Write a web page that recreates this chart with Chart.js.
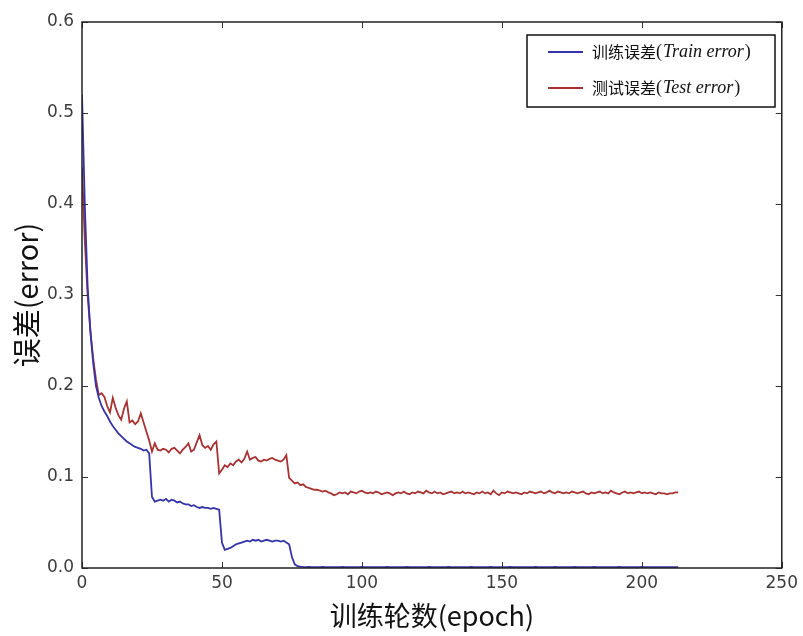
<!DOCTYPE html>
<html>
<head>
<meta charset="utf-8">
<script src="https://cdn.jsdelivr.net/npm/chart.js@4/dist/chart.umd.min.js"></script>
<style>
  html, body { margin: 0; padding: 0; background: #fff; }
  #wrap { width: 803px; height: 636px; }
</style>
</head>
<body>
<div id="wrap"><canvas id="errChart" width="803" height="636"></canvas></div>
<script>
// training error per epoch
const trainErr = [
  0.52, 0.40, 0.31, 0.26, 0.225, 0.20, 0.187, 0.178, 0.172, 0.167,
  0.161, 0.156, 0.152, 0.148, 0.145, 0.142, 0.139, 0.137, 0.135, 0.133,
  0.132, 0.131, 0.129, 0.130, 0.126, 0.078, 0.073, 0.074, 0.075, 0.074,
  0.076, 0.073, 0.075, 0.074, 0.072, 0.073, 0.071, 0.070, 0.070, 0.068,
  0.069, 0.067, 0.066, 0.067, 0.066, 0.066, 0.065, 0.066, 0.065, 0.064,
  0.028, 0.020, 0.021, 0.022, 0.024, 0.026, 0.027, 0.028, 0.029, 0.030,
  0.029, 0.031, 0.030, 0.031, 0.029, 0.030, 0.031, 0.030, 0.029, 0.030,
  0.030, 0.029, 0.030, 0.028, 0.026, 0.012, 0.004, 0.002, 0.0015,
  0.0012, 0.001, 0.0011, 0.001, 0.0009, 0.001, 0.001, 0.0011, 0.001, 0.0009,
  0.001, 0.001, 0.0009, 0.001, 0.0011, 0.001, 0.001, 0.0009, 0.001, 0.001,
  0.001, 0.0011, 0.001, 0.0009, 0.001, 0.001, 0.001, 0.0009, 0.001, 0.001,
  0.0011, 0.001, 0.001, 0.0009, 0.001, 0.001, 0.001, 0.0011, 0.001, 0.0009,
  0.001, 0.001, 0.0009, 0.001, 0.001, 0.0011, 0.001, 0.001, 0.0009, 0.001,
  0.001, 0.001, 0.0011, 0.001, 0.0009, 0.001, 0.001, 0.001, 0.0009, 0.001,
  0.0011, 0.001, 0.001, 0.0009, 0.001, 0.001, 0.001, 0.0011, 0.001, 0.001,
  0.0009, 0.001, 0.001, 0.001, 0.0011, 0.001, 0.0009, 0.001, 0.001, 0.001,
  0.001, 0.0009, 0.001, 0.0011, 0.001, 0.001, 0.001, 0.0009, 0.001, 0.001,
  0.0011, 0.001, 0.001, 0.0009, 0.001, 0.001, 0.001, 0.0011, 0.001, 0.001,
  0.0009, 0.001, 0.001, 0.001, 0.0011, 0.001, 0.0009, 0.001, 0.001, 0.001,
  0.001, 0.0009, 0.001, 0.0011, 0.001, 0.001, 0.001, 0.0009, 0.001, 0.001,
  0.001, 0.0011, 0.001, 0.0009, 0.001, 0.001, 0.001, 0.001, 0.0009, 0.001,
  0.001, 0.001, 0.001, 0.001, 0.001
];

// test error per epoch
const testErr = [
  0.44, 0.36, 0.30, 0.26, 0.23, 0.207, 0.19, 0.192, 0.188, 0.178,
  0.171, 0.187, 0.176, 0.168, 0.163, 0.175, 0.183, 0.160, 0.162, 0.158,
  0.161, 0.170, 0.160, 0.150, 0.140, 0.128, 0.137, 0.130, 0.129, 0.131,
  0.130, 0.127, 0.131, 0.132, 0.129, 0.126, 0.130, 0.133, 0.137, 0.128,
  0.130, 0.138, 0.146, 0.135, 0.132, 0.134, 0.130, 0.136, 0.139, 0.104,
  0.108, 0.113, 0.111, 0.115, 0.113, 0.117, 0.119, 0.116, 0.120, 0.128,
  0.119, 0.121, 0.122, 0.118, 0.117, 0.119, 0.118, 0.120, 0.121, 0.119,
  0.118, 0.117, 0.119, 0.124, 0.099, 0.096, 0.093, 0.094, 0.091, 0.092,
  0.089, 0.088, 0.087, 0.086, 0.086, 0.085, 0.084, 0.085, 0.083, 0.082,
  0.080, 0.081, 0.083,
  0.082, 0.083, 0.081, 0.084, 0.083, 0.082, 0.084, 0.085, 0.083, 0.082,
  0.083, 0.082, 0.084, 0.083, 0.081, 0.082, 0.083, 0.082, 0.080, 0.082,
  0.083, 0.082, 0.084, 0.082, 0.081, 0.083, 0.082, 0.084, 0.083, 0.082,
  0.085, 0.083, 0.082, 0.084, 0.082, 0.083, 0.081, 0.082, 0.083, 0.084,
  0.082, 0.083, 0.082, 0.084, 0.082, 0.083, 0.082, 0.081, 0.083, 0.082,
  0.084, 0.082, 0.083, 0.081, 0.085, 0.082, 0.080, 0.083, 0.082, 0.084,
  0.083, 0.082, 0.083, 0.082, 0.081, 0.083, 0.082, 0.084, 0.083, 0.082,
  0.083, 0.084, 0.082, 0.083, 0.085, 0.083, 0.082, 0.084, 0.083, 0.082,
  0.083, 0.082, 0.084, 0.083, 0.082, 0.083, 0.084, 0.082, 0.081, 0.083,
  0.082, 0.083, 0.084, 0.082, 0.083, 0.082, 0.085, 0.083, 0.082, 0.081,
  0.083, 0.084, 0.082, 0.083, 0.082, 0.083, 0.084, 0.082, 0.083, 0.082,
  0.083, 0.082, 0.081, 0.083, 0.082, 0.082, 0.081, 0.082, 0.082, 0.083, 0.083
];

const epochs = trainErr.map((_, i) => i);

const seriesZh = ["训练误差", "测试误差"];
const seriesEn = ["Train error", "Test error"];
const seriesColors = ["#3434a8", "#a83232"];

const xTicks = [0, 50, 100, 150, 200, 250];
const yTicks = [0.0, 0.1, 0.2, 0.3, 0.4, 0.5, 0.6];

const toPoints = arr => arr.map((v, i) => ({ x: epochs[i], y: v }));

// frame box + inward ticks on all four sides (matplotlib classic look)
const frameTicks = {
  id: "frameTicks",
  afterDatasetsDraw(chart) {
    const { ctx, chartArea: a, scales } = chart;
    ctx.save();
    ctx.strokeStyle = "#333";
    ctx.lineWidth = 1;
    const len = 6;
    ctx.beginPath();
    xTicks.forEach(t => {
      const px = Math.round(scales.x.getPixelForValue(t)) + 0.5;
      ctx.moveTo(px, a.bottom); ctx.lineTo(px, a.bottom - len);
      ctx.moveTo(px, a.top); ctx.lineTo(px, a.top + len);
    });
    yTicks.forEach(t => {
      const py = Math.round(scales.y.getPixelForValue(t)) + 0.5;
      ctx.moveTo(a.left, py); ctx.lineTo(a.left + len, py);
      ctx.moveTo(a.right, py); ctx.lineTo(a.right - len, py);
    });
    ctx.stroke();
    ctx.lineWidth = 1.5;
    ctx.strokeStyle = "#222";
    ctx.strokeRect(a.left, a.top, a.right - a.left, a.bottom - a.top);
    ctx.restore();
  }
};

// legend with mixed CJK / italic serif text
const mixedLegend = {
  id: "mixedLegend",
  afterDraw(chart) {
    const ctx = chart.ctx;
    const bx = 527, by = 35, bw = 248, bh = 72;
    ctx.save();
    ctx.fillStyle = "#fff";
    ctx.fillRect(bx, by, bw, bh);
    ctx.strokeStyle = "#111";
    ctx.lineWidth = 1.5;
    ctx.strokeRect(bx, by, bw, bh);
    chart.data.datasets.forEach((ds, i) => {
      const y = by + 17 + i * 36;
      ctx.strokeStyle = ds.borderColor;
      ctx.lineWidth = 2;
      ctx.beginPath();
      ctx.moveTo(bx + 21, y); ctx.lineTo(bx + 56, y);
      ctx.stroke();
      let x = bx + 65;
      ctx.fillStyle = "#111";
      ctx.textBaseline = "middle";
      ctx.font = '16px "Noto Sans CJK SC"';
      ctx.fillText(seriesZh[i], x, y);
      x += ctx.measureText(seriesZh[i]).width;
      ctx.font = '18px "Liberation Serif"';
      ctx.fillText("(", x, y);
      x += ctx.measureText("(").width + 1;
      ctx.font = 'italic 18px "Liberation Serif"';
      ctx.fillText(seriesEn[i], x, y);
      x += ctx.measureText(seriesEn[i]).width + 1;
      ctx.font = '18px "Liberation Serif"';
      ctx.fillText(")", x, y);
    });
    ctx.restore();
  }
};

new Chart(document.getElementById("errChart"), {
  type: "line",
  data: {
    datasets: [
      {
        label: seriesZh[0] + "(" + seriesEn[0] + ")",
        data: toPoints(trainErr),
        borderColor: seriesColors[0],
        borderWidth: 1.8,
        pointRadius: 0,
        tension: 0
      },
      {
        label: seriesZh[1] + "(" + seriesEn[1] + ")",
        data: toPoints(testErr),
        borderColor: seriesColors[1],
        borderWidth: 1.8,
        pointRadius: 0,
        tension: 0
      }
    ]
  },
  options: {
    responsive: false,
    animation: false,
    layout: { padding: { top: 22, right: 13, left: 0, bottom: 0 } },
    plugins: {
      legend: { display: false },
      tooltip: { enabled: false }
    },
    scales: {
      x: {
        type: "linear",
        min: 0,
        max: 250,
        afterBuildTicks: s => { s.ticks = xTicks.map(v => ({ value: v })); },
        afterFit: s => { s.height = 68; },
        grid: { display: false, drawTicks: false, tickLength: 0 },
        border: { display: false },
        ticks: {
          padding: 5,
          color: "#3c3c3c",
          font: { family: "DejaVu Sans", size: 17 }
        },
        title: {
          display: true,
          text: "训练轮数(epoch)",
          color: "#111",
          font: { family: "Noto Sans CJK SC", size: 27 },
          padding: { top: 8 }
        }
      },
      y: {
        min: 0,
        max: 0.6,
        afterBuildTicks: s => { s.ticks = yTicks.map(v => ({ value: v })); },
        afterFit: s => { s.width = 82; },
        grid: { display: false, drawTicks: false, tickLength: 0 },
        border: { display: false },
        ticks: {
          padding: 8,
          color: "#3c3c3c",
          font: { family: "DejaVu Sans", size: 17 },
          callback: v => Number(v).toFixed(1)
        },
        title: {
          display: true,
          text: "误差(error)",
          color: "#111",
          font: { family: "Noto Sans CJK SC", size: 29 },
          padding: { top: 10, bottom: 0 }
        }
      }
    }
  },
  plugins: [frameTicks, mixedLegend]
});
</script>
</body>
</html>
